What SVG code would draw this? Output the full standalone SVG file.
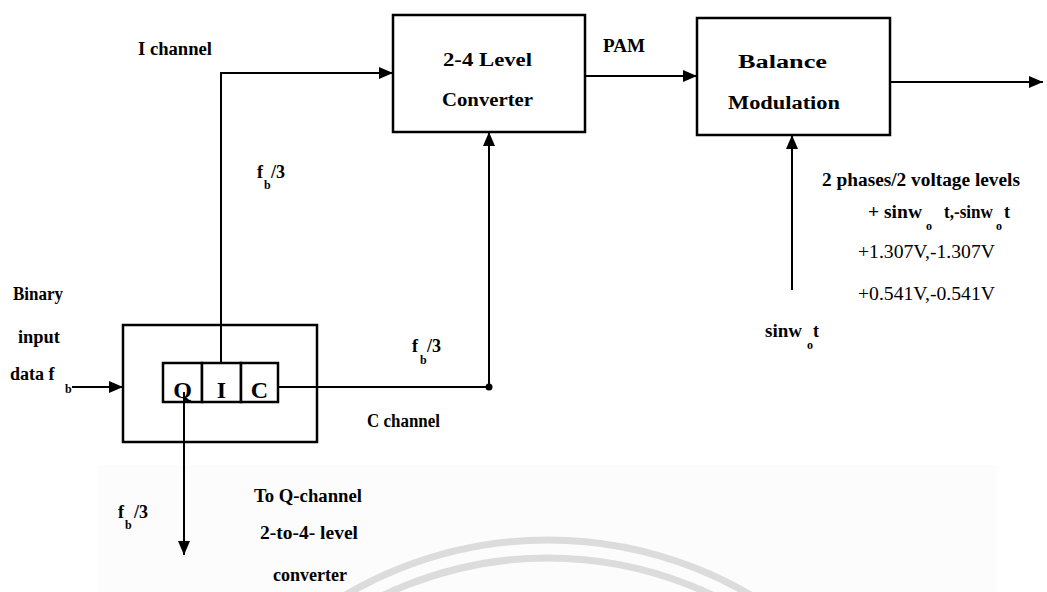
<svg xmlns="http://www.w3.org/2000/svg" width="1047" height="592" viewBox="0 0 1047 592">
<defs>
<marker id="ah" markerWidth="14" markerHeight="12" refX="14" refY="6" orient="auto" markerUnits="userSpaceOnUse"><path d="M0,0 L14,6 L0,12 Z" fill="#000"/></marker>
</defs>
<style>
text{font-family:"Liberation Serif","Times New Roman",serif;fill:#000}
.b{font-weight:bold;font-size:18px}
.r{font-size:19px}
.s{font-weight:bold;font-size:12px}
.box{fill:#fff;stroke:#000;stroke-width:2.5}
.ln{fill:none;stroke:#000;stroke-width:2}
.cell{font-weight:bold;font-size:24px;text-anchor:middle}
</style>
<rect width="1047" height="592" fill="#fff"/>
<g id="watermark">
<rect x="98" y="465" width="899" height="127" fill="#fcfcfc"/>
<circle cx="548" cy="940" r="400" fill="none" stroke="#dcdcdc" stroke-width="7"/>
<circle cx="548" cy="940" r="382" fill="none" stroke="#dcdcdc" stroke-width="7"/>
</g>
<g id="converter">
<rect class="box" x="393" y="15" width="192" height="117"/>
<text class="b" x="443" y="66" textLength="89" lengthAdjust="spacingAndGlyphs">2-4 Level</text>
<text class="b" x="442" y="106" textLength="91" lengthAdjust="spacingAndGlyphs">Converter</text>
</g>
<g id="balance">
<rect class="box" x="697" y="18" width="193" height="117"/>
<text class="b" x="738" y="68" textLength="89" lengthAdjust="spacingAndGlyphs">Balance</text>
<text class="b" x="728" y="109" textLength="112" lengthAdjust="spacingAndGlyphs">Modulation</text>
</g>
<g id="splitter">
<rect class="box" x="123" y="325" width="194" height="117"/>
<rect class="box" x="163" y="363" width="39" height="39"/>
<rect class="box" x="202" y="363" width="39" height="39"/>
<rect class="box" x="241" y="363" width="37" height="39"/>
<text class="cell" x="182.5" y="398">Q</text>
<text class="cell" x="221.5" y="398">I</text>
<text class="cell" x="259.5" y="398">C</text>
</g>
<g id="connectors">
<path class="ln" d="M221,363 V73 H393" marker-end="url(#ah)"/>
<path class="ln" d="M585,76 H697" marker-end="url(#ah)"/>
<path class="ln" d="M890,82 H1043" marker-end="url(#ah)"/>
<path class="ln" d="M278,387 H489 V132" marker-end="url(#ah)"/>
<circle cx="489" cy="387" r="3.5" fill="#000"/>
<path class="ln" d="M792,290 V135" marker-end="url(#ah)"/>
<path class="ln" d="M72,387 H123" marker-end="url(#ah)"/>
<path class="ln" d="M184,392 V555" marker-end="url(#ah)"/>
</g>
<g id="labels">
<text class="b" x="138" y="55" textLength="74" lengthAdjust="spacingAndGlyphs">I channel</text>
<text class="b" x="603" y="52" textLength="42" lengthAdjust="spacingAndGlyphs">PAM</text>
<text class="b" x="257" y="178">f</text><text class="s" x="264" y="189">b</text><text class="b" x="271" y="178">/3</text>
<text class="b" x="412" y="352">f</text><text class="s" x="420" y="364">b</text><text class="b" x="427" y="352">/3</text>
<text class="b" x="118" y="518">f</text><text class="s" x="125" y="529">b</text><text class="b" x="134" y="518">/3</text>
<text class="b" x="367" y="427" textLength="73" lengthAdjust="spacingAndGlyphs">C channel</text>
<text class="b" x="13" y="300" textLength="50" lengthAdjust="spacingAndGlyphs">Binary</text>
<text class="b" x="18" y="343" textLength="42" lengthAdjust="spacingAndGlyphs">input</text>
<text class="b" x="10" y="380">data f</text><text class="s" x="65" y="393">b</text>
<text class="b" x="254" y="502" textLength="108" lengthAdjust="spacingAndGlyphs">To Q-channel</text>
<text class="b" x="260" y="539" textLength="98" lengthAdjust="spacingAndGlyphs">2-to-4- level</text>
<text class="b" x="273" y="581" textLength="74" lengthAdjust="spacingAndGlyphs">converter</text>
<text class="b" x="822" y="186" textLength="198" lengthAdjust="spacingAndGlyphs">2 phases/2 voltage levels</text>
<text class="b" x="868" y="218" textLength="54" lengthAdjust="spacingAndGlyphs">+ sinw</text><text class="s" x="926" y="230">o</text><text class="b" x="944" y="218" textLength="49" lengthAdjust="spacingAndGlyphs">t,-sinw</text><text class="s" x="996" y="230">o</text><text class="b" x="1004" y="218">t</text>
<text class="r" x="858" y="258" textLength="137" lengthAdjust="spacingAndGlyphs">+1.307V,-1.307V</text>
<text class="r" x="858" y="300" textLength="137" lengthAdjust="spacingAndGlyphs">+0.541V,-0.541V</text>
<text class="b" x="765" y="337" textLength="37" lengthAdjust="spacingAndGlyphs">sinw</text><text class="s" x="807" y="349">o</text><text class="b" x="813" y="337">t</text>
</g>
</svg>
